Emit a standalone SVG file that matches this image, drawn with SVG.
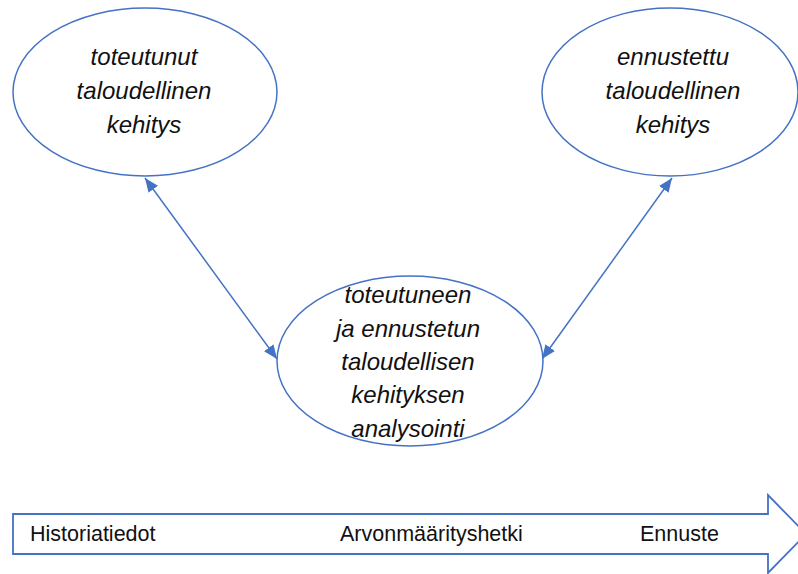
<svg xmlns="http://www.w3.org/2000/svg" width="798" height="574" viewBox="0 0 798 574">
<style>
.node ellipse{fill:#fff;stroke:#4472C4;stroke-width:1.5}
.it{font-family:"Liberation Sans",Arial,sans-serif;font-style:italic;font-size:24px;fill:#111;text-anchor:middle}
.lbl{font-family:"Liberation Sans",Arial,sans-serif;font-size:21.5px;fill:#111}
.conn line{stroke:#4472C4;stroke-width:1.5;marker-start:url(#ah);marker-end:url(#ah)}
</style>
<defs>
<marker id="ah" viewBox="0 0 12 10" refX="12" refY="5" markerWidth="14" markerHeight="12" markerUnits="userSpaceOnUse" orient="auto-start-reverse">
<path d="M0,0 L12,5 L0,10 z" fill="#4472C4"/>
</marker>
</defs>
<rect width="798" height="574" fill="#fff"/>
<g id="timeline">
<path d="M13,514 L768,514 L768,495 L806,534 L768,573 L768,554 L13,554 Z" fill="#fff" stroke="#4472C4" stroke-width="1.8"/>
<text class="lbl" x="30" y="541">Historiatiedot</text>
<text class="lbl" x="340" y="541">Arvonmäärityshetki</text>
<text class="lbl" x="640" y="541">Ennuste</text>
</g>
<g class="conn" id="connectors">
<line x1="145" y1="178" x2="277" y2="359"/>
<line x1="672" y1="178" x2="542" y2="359"/>
</g>
<g class="node" id="n-toteutunut">
<ellipse cx="145" cy="92" rx="132" ry="84"/>
<text class="it" x="144" y="65">toteutunut</text>
<text class="it" x="144" y="99">taloudellinen</text>
<text class="it" x="144" y="133">kehitys</text>
</g>
<g class="node" id="n-ennustettu">
<ellipse cx="670" cy="92" rx="128" ry="84"/>
<text class="it" x="673" y="65">ennustettu</text>
<text class="it" x="673" y="99">taloudellinen</text>
<text class="it" x="673" y="133">kehitys</text>
</g>
<g class="node" id="n-analysointi">
<ellipse cx="410" cy="361" rx="133" ry="85"/>
<text class="it" x="408" y="303">toteutuneen</text>
<text class="it" x="408" y="337">ja ennustetun</text>
<text class="it" x="408" y="370">taloudellisen</text>
<text class="it" x="408" y="403">kehityksen</text>
<text class="it" x="408" y="437">analysointi</text>
</g>
</svg>
